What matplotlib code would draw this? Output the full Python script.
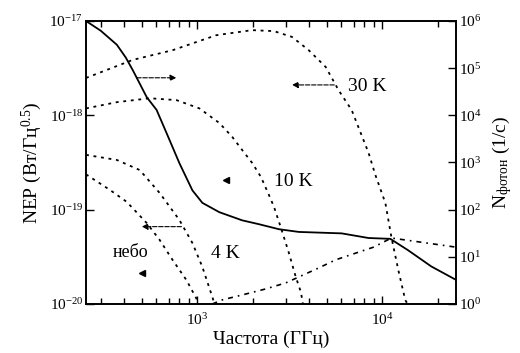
import matplotlib.pyplot as plt
import numpy as np

plt.rcParams['font.family'] = ['Liberation Serif', 'DejaVu Serif']
plt.rcParams['mathtext.fontset'] = 'custom'
plt.rcParams['mathtext.rm'] = 'Liberation Serif'
plt.rcParams['mathtext.it'] = 'Liberation Serif:italic'
plt.rcParams['mathtext.default'] = 'regular'

# NEP detector curve (left axis)
freq_nep = [250, 300, 367, 410, 448, 532, 602, 681, 800, 940, 1064, 1313, 1746, 2155,
            2760, 3537, 6025, 8420, 11040, 13800, 18370, 25000]
nep = [1.0e-17, 7.9e-18, 5.6e-18, 4.1e-18, 3.0e-18, 1.56e-18, 1.14e-18, 6.5e-19, 3.1e-19,
       1.6e-19, 1.18e-19, 9.4e-20, 7.7e-20, 7.0e-20, 6.2e-20, 5.8e-20, 5.6e-20, 5.0e-20,
       4.9e-20, 3.7e-20, 2.5e-20, 1.8e-20]

# photon rates (right axis)
f30 = [250, 448, 734, 1266, 1977, 2594, 3245, 4000, 4940, 5800, 6820, 8420,
       9170, 10380, 11190, 12200, 13300, 13700]
n30 = [6.2e4, 1.5e5, 2.4e5, 5.0e5, 6.4e5, 6.1e5, 4.6e5, 2.4e5, 1.06e5, 3.4e4,
       1.3e4, 1.6e3, 540, 138, 26, 5.2, 1.2, 1.0]

f10 = [250, 367, 552, 771, 1026, 1313, 1542, 1746, 1977, 2208, 2437, 2594,
       2830, 3125, 3405, 3625, 3720]
n10 = [1.4e4, 1.9e4, 2.3e4, 2.1e4, 1.4e4, 6.9e3, 3.5e3, 1.84e3, 980, 490, 204,
       115, 41, 12, 3.7, 1.8, 1.0]

f4 = [250, 367, 488, 625, 800, 940, 1064, 1205, 1237]
n4 = [1.45e3, 1.13e3, 690, 226, 60, 19.6, 6.1, 1.4, 1.0]

f_sky = [250, 337, 415, 532, 625, 734, 873, 988, 1010]
n_sky = [560, 261, 146, 52, 22.8, 8.6, 3.2, 1.3, 1.0]

f_dd = [1205, 1364, 1746, 2350, 3010, 3537, 4530, 5580, 8960, 11190, 25000]
n_dd = [1.0, 1.22, 1.55, 2.09, 2.8, 3.74, 5.8, 8.6, 16, 25, 16]

fig = plt.figure(figsize=(5.2, 3.53), dpi=100)
ax = fig.add_axes([0.1654, 0.139, 0.7115, 0.8015])
ax2 = ax.twinx()

dot = (0, (1.6, 2.6))
ax2.plot(f30, n30, color='k', lw=1.3, ls=dot)
ax2.plot(f10, n10, color='k', lw=1.3, ls=dot)
ax2.plot(f4, n4, color='k', lw=1.3, ls=dot)
ax2.plot(f_sky, n_sky, color='k', lw=1.3, ls=dot)
ax2.plot(f_dd, n_dd, color='k', lw=1.2, ls=(0, (3, 3, 1, 3)))
ax.plot(freq_nep, nep, color='k', lw=1.3)

ax.set_xscale('log')
ax.set_yscale('log')
ax2.set_yscale('log')
ax.set_xlim(250, 25000)
ax.set_ylim(1e-20, 1e-17)
ax2.set_ylim(1, 1e6)

ax.set_yticks([1e-20, 1e-19, 1e-18, 1e-17])
ax.yaxis.set_minor_locator(plt.NullLocator())
ax2.set_yticks([1e0, 1e1, 1e2, 1e3, 1e4, 1e5, 1e6])
ax2.yaxis.set_minor_locator(plt.NullLocator())

ax.tick_params(axis='x', which='both', direction='in', top=True, labelsize=11, pad=6)
ax.tick_params(axis='x', which='major', length=6, width=1)
ax.tick_params(axis='x', which='minor', length=4, width=1)
ax.tick_params(axis='y', direction='in', length=6, width=1, labelsize=11, pad=2)
ax2.tick_params(axis='y', direction='in', length=6, width=1, labelsize=11, pad=2)
for a in (ax, ax2):
    for s in a.spines.values():
        s.set_linewidth(1.2)

ax.set_xlabel('Частота (ГГц)', fontsize=14, labelpad=2)
ax.set_ylabel('NEP (Вт/Гц$^{0.5}$)', fontsize=14, labelpad=4)
ax2.set_ylabel('N$_{фотон}$ (1/с)', fontsize=14, labelpad=6)

# text labels and arrows
ax.text(6500, 2.0e-18, '30 K', fontsize=14, va='center')
ax.text(2600, 2.0e-19, '10 K', fontsize=14, va='center')
ax.text(1180, 3.4e-20, '4 K', fontsize=14, va='center')
ax.text(350, 3.5e-20, 'небо', fontsize=13, va='center')

arrow = dict(arrowstyle='-|>', lw=0.8, color='k', ls=(0, (4, 1.5)),
             mutation_scale=9, shrinkA=0, shrinkB=0)
ax.annotate('', xy=(770, 2.5e-18), xytext=(470, 2.5e-18), arrowprops=arrow)
ax.annotate('', xy=(3245, 2.1e-18), xytext=(5500, 2.1e-18), arrowprops=arrow)
ax.annotate('', xy=(500, 6.6e-20), xytext=(820, 6.6e-20), arrowprops=arrow)
ax.plot([1432], [2.06e-19], marker='<', ms=4, color='k')
ax.plot([500], [2.14e-20], marker='<', ms=4, color='k')

fig.savefig('out.png', dpi=100)
